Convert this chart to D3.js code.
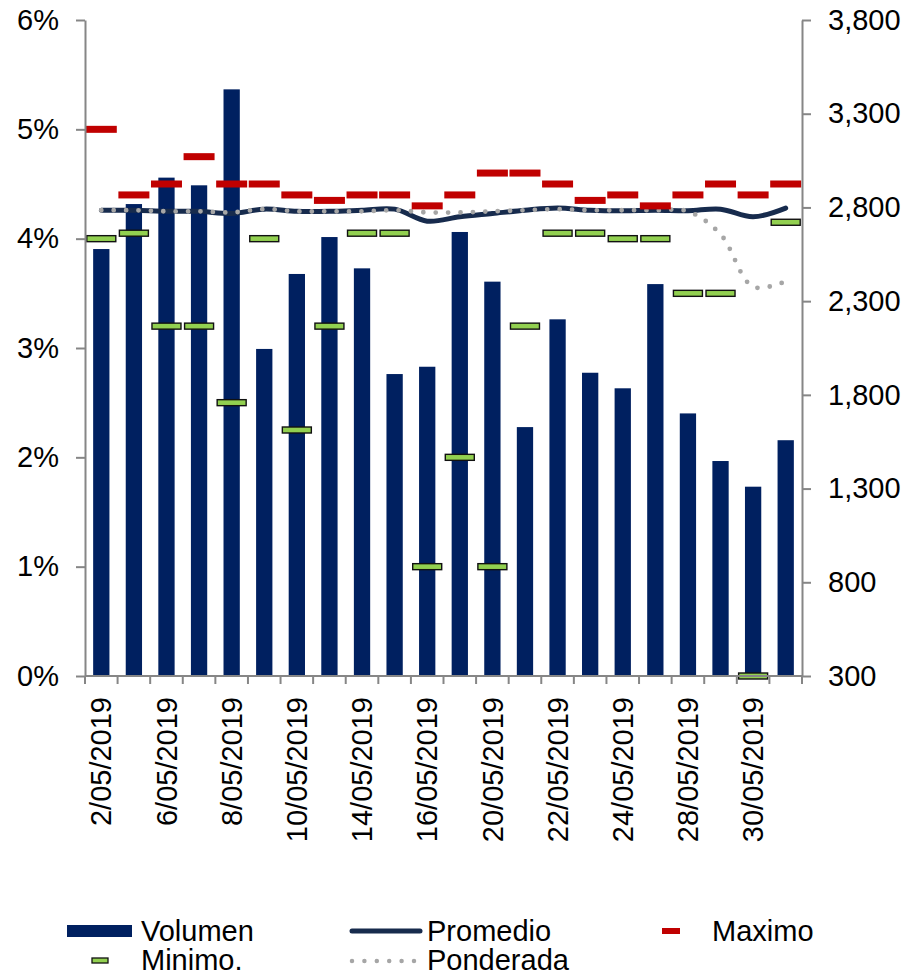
<!DOCTYPE html>
<html>
<head>
<meta charset="utf-8">
<script src="https://cdn.jsdelivr.net/npm/d3@7"></script>
<style>
  body { margin: 0; background: #fff; }
  svg text { font-family: "Liberation Sans", Arial, sans-serif; fill: #000; }
</style>
</head>
<body>
<div id="chart"></div>
<script>
// ---------------- data ----------------
var fechas = ["2/05/2019","3/05/2019","6/05/2019","7/05/2019","8/05/2019","9/05/2019","10/05/2019",
              "13/05/2019","14/05/2019","15/05/2019","16/05/2019","17/05/2019","20/05/2019","21/05/2019",
              "22/05/2019","23/05/2019","24/05/2019","27/05/2019","28/05/2019","29/05/2019","30/05/2019","31/05/2019"];
var volumen   = [2578,2818,2959,2918,3430,2045,2445,2642,2475,1911,1950,2669,2404,1628,2203,1918,1835,2391,1701,1447,1310,1558];
var promedio  = [4.26,4.26,4.25,4.25,4.23,4.27,4.25,4.25,4.26,4.27,4.16,4.20,4.23,4.26,4.28,4.26,4.255,4.26,4.255,4.27,4.20,4.28];
var ponderada = [4.26,4.26,4.25,4.25,4.24,4.27,4.25,4.25,4.25,4.26,4.24,4.24,4.25,4.26,4.27,4.26,4.26,4.26,4.25,4.04,3.56,3.61];
var maximo    = [5.0,4.4,4.5,4.75,4.5,4.5,4.4,4.35,4.4,4.4,4.3,4.4,4.6,4.6,4.5,4.35,4.4,4.3,4.4,4.5,4.4,4.5];
var minimo    = [4.0,4.05,3.2,3.2,2.5,4.0,2.25,3.2,4.05,4.05,1.0,2.0,1.0,3.2,4.05,4.05,4.0,4.0,3.5,3.5,0.0,4.15];
var ticksPct  = [0,1,2,3,4,5,6];
var ticksVol  = [300,800,1300,1800,2300,2800,3300,3800];

// ---------------- layout ----------------
var width = 906, height = 971;
var plotL = 85, plotR = 802, plotT = 20, plotB = 676;
var axisColor = "#868686";
var fontSize = 29;

var svg = d3.select("#chart").append("svg")
    .attr("width", width)
    .attr("height", height);

var x = d3.scaleBand().domain(fechas).range([plotL, plotR]).paddingInner(0.5).paddingOuter(0.25);
var step = x.step();
var cx = function (d, i) { return x(fechas[i]) + x.bandwidth() / 2; };
var yPct = d3.scaleLinear().domain([0, 6]).range([plotB, plotT]);
var yVol = d3.scaleLinear().domain([300, 3800]).range([plotB, plotT]);

// bars (volumen, right axis)
svg.append("g").selectAll("rect")
    .data(volumen)
    .enter().append("rect")
    .attr("x", function (d, i) { return x(fechas[i]); })
    .attr("y", function (d) { return yVol(d); })
    .attr("width", x.bandwidth())
    .attr("height", function (d) { return plotB - yVol(d); })
    .attr("fill", "#002060");

// promedio line
var line = d3.line()
    .x(function (d, i) { return cx(d, i); })
    .y(function (d) { return yPct(d); })
    .curve(d3.curveCatmullRom.alpha(0.5));

svg.append("path")
    .datum(promedio)
    .attr("d", line)
    .attr("fill", "none")
    .attr("stroke", "#172b4d")
    .attr("stroke-width", 5)
    .attr("stroke-linejoin", "round")
    .attr("stroke-linecap", "round");

// ponderada dotted
svg.append("path")
    .datum(ponderada)
    .attr("d", line)
    .attr("fill", "none")
    .attr("stroke", "#a6a6a6")
    .attr("stroke-width", 4.8)
    .attr("stroke-linecap", "round")
    .attr("stroke-dasharray", "0 12.4");

// maximo markers
svg.append("g").selectAll("rect")
    .data(maximo)
    .enter().append("rect")
    .attr("x", function (d, i) { return cx(d, i) - 15.5; })
    .attr("y", function (d) { return yPct(d) - 3.5; })
    .attr("width", 31)
    .attr("height", 7)
    .attr("fill", "#c00000");

// minimo markers
svg.append("g").selectAll("rect")
    .data(minimo)
    .enter().append("rect")
    .attr("x", function (d, i) { return cx(d, i) - 14.5; })
    .attr("y", function (d) { return yPct(d) - 3; })
    .attr("width", 29)
    .attr("height", 6)
    .attr("fill", "#92d050")
    .attr("stroke", "#111")
    .attr("stroke-width", 1.4);

// ---------------- axes ----------------
var axL = svg.append("g")
    .attr("transform", "translate(" + plotL + ",0)")
    .call(d3.axisLeft(yPct).tickValues(ticksPct).tickSize(9).tickSizeOuter(0).tickPadding(17)
        .tickFormat(function (d) { return d + "%"; }));

var axR = svg.append("g")
    .attr("transform", "translate(" + plotR + ",0)")
    .call(d3.axisRight(yVol).tickValues(ticksVol).tickSize(9).tickSizeOuter(0).tickPadding(17)
        .tickFormat(d3.format(",")));

[axL, axR].forEach(function (g) {
    g.select(".domain").attr("stroke", axisColor).attr("stroke-width", 2);
    g.selectAll(".tick line").attr("stroke", axisColor).attr("stroke-width", 2);
    g.selectAll(".tick text").attr("font-size", fontSize).attr("fill", "#000")
        .style("font-family", '"Liberation Sans", Arial, sans-serif');
});

// category axis: line, boundary ticks, every second label
var gx = svg.append("g");
gx.append("line")
    .attr("x1", plotL).attr("x2", plotR)
    .attr("y1", plotB).attr("y2", plotB)
    .attr("stroke", axisColor).attr("stroke-width", 2);
gx.selectAll("line.tk")
    .data(d3.range(fechas.length + 1))
    .enter().append("line")
    .attr("class", "tk")
    .attr("x1", function (i) { return plotL + i * step; })
    .attr("x2", function (i) { return plotL + i * step; })
    .attr("y1", plotB).attr("y2", plotB + 8)
    .attr("stroke", axisColor).attr("stroke-width", 2);
gx.selectAll("text")
    .data(fechas.filter(function (d, i) { return i % 2 === 0; }))
    .enter().append("text")
    .attr("transform", function (d) {
        return "translate(" + (x(d) + x.bandwidth() / 2) + "," + (plotB + 21) + ")rotate(-90)";
    })
    .attr("text-anchor", "end")
    .attr("dy", "0.35em")
    .attr("font-size", fontSize)
    .text(function (d) { return d; });

// ---------------- legend ----------------
var lg = svg.append("g").attr("font-size", fontSize);
lg.append("rect").attr("x", 67).attr("y", 925).attr("width", 65).attr("height", 12).attr("fill", "#002060");
lg.append("text").attr("x", 141).attr("y", 941).text("Volumen");

lg.append("line").attr("x1", 352).attr("x2", 420).attr("y1", 931).attr("y2", 931)
    .attr("stroke", "#172b4d").attr("stroke-width", 5).attr("stroke-linecap", "round");
lg.append("text").attr("x", 427).attr("y", 941).text("Promedio");

lg.append("rect").attr("x", 662).attr("y", 928).attr("width", 18).attr("height", 6).attr("fill", "#c00000");
lg.append("text").attr("x", 712).attr("y", 941).text("Maximo");

lg.append("rect").attr("x", 92).attr("y", 958).attr("width", 16).attr("height", 5)
    .attr("fill", "#92d050").attr("stroke", "#111").attr("stroke-width", 1.3);
lg.append("text").attr("x", 141).attr("y", 970).text("Minimo.");

lg.append("line").attr("x1", 352).attr("x2", 418).attr("y1", 961).attr("y2", 961)
    .attr("stroke", "#a6a6a6").attr("stroke-width", 4.5).attr("stroke-linecap", "round")
    .attr("stroke-dasharray", "0 12.4");
lg.append("text").attr("x", 427).attr("y", 970).text("Ponderada");
</script>
</body>
</html>
